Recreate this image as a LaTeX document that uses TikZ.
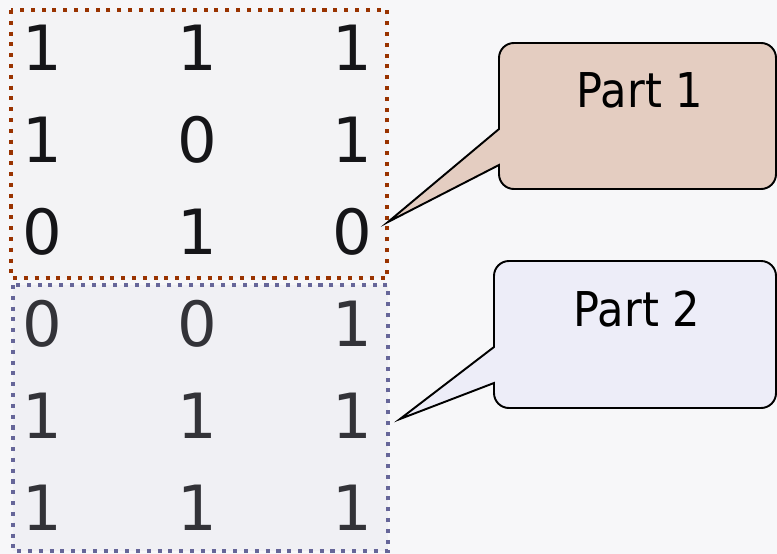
\documentclass[tikz,border=0pt]{standalone}
\usepackage{fontspec}
\setmainfont{DejaVu Sans Condensed}
\newfontfamily\bitfont{DejaVu Sans}
\usepackage{tikz}
\usetikzlibrary{positioning}

\definecolor{rust}{HTML}{993300}
\definecolor{slate}{HTML}{666699}
\definecolor{tan}{HTML}{E4CDC1}
\definecolor{lilac}{HTML}{EDEDF8}
\definecolor{paper}{HTML}{F7F7F9}
\definecolor{ink}{HTML}{151518}
\definecolor{greyink}{HTML}{333338}

\begin{document}
\begin{tikzpicture}[x=0.02cm, y=-0.02cm,
    node distance=1.84cm and 3.1cm, on grid,
    bit/.style={font=\bitfont\fontsize{35.5}{40}\selectfont, text=ink, inner sep=0pt},
    lowbit/.style={bit, text=greyink},
    partbox/.style={line width=2.3pt, dash pattern=on 2.3pt off 3.85pt},
    bubble/.style={draw=black, line width=1.1pt},
    bubbletext/.style={font=\fontsize{27.3}{30}\selectfont, inner sep=0pt}]

    % Background

    \fill[paper] (0,0) rectangle (777,554);
    \useasboundingbox (0,0) rectangle (777,554);
    \fill[black!1.5!paper] (11,10) rectangle (387,278);
    \fill[slate!5!paper] (13,285) rectangle (388,551);

    % Nodes

    \node[bit]                      (r1a) at (42,48) {1}; %
    \node[bit, right=of r1a]        (r1b) {1}; %
    \node[bit, right=of r1b]        (r1c) {1}; %
    \node[bit, below=of r1a]        (r2a) {1}; %
    \node[bit, right=of r2a]        (r2b) {0}; %
    \node[bit, right=of r2b]        (r2c) {1}; %
    \node[bit, below=of r2a]        (r3a) {0}; %
    \node[bit, right=of r3a]        (r3b) {1}; %
    \node[bit, right=of r3b]        (r3c) {0}; %

    \node[lowbit, below=of r3a]     (r4a) {0}; %
    \node[lowbit, right=of r4a]     (r4b) {0}; %
    \node[lowbit, right=of r4b]     (r4c) {1}; %
    \node[lowbit, below=of r4a]     (r5a) {1}; %
    \node[lowbit, right=of r5a]     (r5b) {1}; %
    \node[lowbit, right=of r5b]     (r5c) {1}; %
    \node[lowbit, below=of r5a]     (r6a) {1}; %
    \node[lowbit, right=of r6a]     (r6b) {1}; %
    \node[lowbit, right=of r6b]     (r6c) {1}; %

    % Dotted frames

    \draw[partbox, rust]  (11,10) rectangle (387,278);
    \draw[partbox, slate] (13,285) rectangle (388,551);

    \coordinate (tip1) at (388,222);
    \coordinate (tip2) at (400,419);

    % Callouts

    \draw[bubble, fill=tan] (499,165) [rounded corners=8.5pt] -- (499,189) -- (776,189)
        -- (776,43) -- (499,43) [sharp corners] -- (499,129) -- (tip1) -- cycle;
    \draw[bubble, fill=lilac] (494,383) [rounded corners=8.5pt] -- (494,408) -- (776,408)
        -- (776,261) -- (494,261) [sharp corners] -- (494,347) -- (tip2) -- cycle;

    \node[bubbletext] (part1) at (640,90)  {Part 1}; %
    \node[bubbletext] (part2) at (637,309) {Part 2}; %

\end{tikzpicture}
\end{document}
